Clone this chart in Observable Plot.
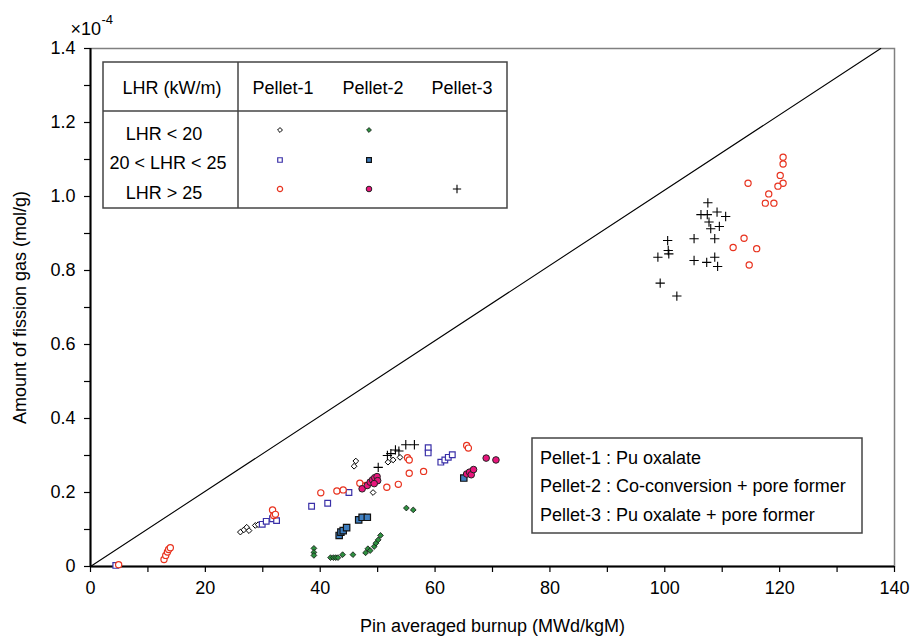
<!DOCTYPE html>
<html><head><meta charset="utf-8">
<script src="https://cdn.jsdelivr.net/npm/d3@7"></script>
<script src="https://cdn.jsdelivr.net/npm/@observablehq/plot@0.6"></script>
<style>
body{margin:0;background:#fff;}
#wrap{position:relative;width:913px;height:641px;font-family:"Liberation Sans",Arial,sans-serif;color:#000;}
#overlay{position:absolute;left:0;top:0;pointer-events:none;}
</style></head><body><div id="wrap"></div>
<script>
// ---- data (burnup in MWd/kgM, fission gas in 1e-4 mol/g) ----
const p1LowX = [26.1,26.7,27.2,27.6,28.7,29.2,45.9,46.2,49.2,51.8,52.7,53.9];
const p1LowY = [0.093,0.099,0.106,0.097,0.111,0.113,0.271,0.285,0.2,0.282,0.288,0.295];

const p1MidX = [4.4,29.9,30.6,31.7,32.4,38.5,41.3,45.0,58.8,58.8,61.0,61.7,62.3,63.0];
const p1MidY = [0.003,0.114,0.122,0.129,0.124,0.163,0.171,0.2,0.321,0.307,0.282,0.288,0.295,0.302];

const p1HighX = [4.9,12.8,13.1,13.4,13.6,13.9,31.7,31.9,32.2,40.1,42.9,44.0,46.9,47.9,51.6,53.6,55.2,55.5,55.5,58.0,65.5,65.8,
  120.6,120.6,120.1,120.6,119.7,114.5,118.1,117.5,119.0,113.8,111.9,116.0,114.7];
const p1HighY = [0.005,0.019,0.030,0.039,0.046,0.051,0.153,0.138,0.141,0.199,0.204,0.207,0.225,0.219,0.214,0.222,0.294,0.288,0.252,0.257,0.327,0.32,
  1.106,1.088,1.057,1.036,1.028,1.036,1.007,0.982,0.982,0.887,0.862,0.859,0.815];

const p2LowX = [38.9,38.9,38.9,41.8,42.3,42.7,43.1,43.9,45.7,47.9,48.3,48.7,49.4,49.7,50.1,50.5,55.0,56.2];
const p2LowY = [0.049,0.038,0.030,0.024,0.024,0.024,0.024,0.032,0.032,0.037,0.048,0.043,0.054,0.063,0.072,0.084,0.158,0.153];

const p2MidX = [43.3,43.6,44.0,44.6,46.7,47.3,48.2,65.0];
const p2MidY = [0.084,0.093,0.097,0.105,0.126,0.133,0.133,0.239];

const p2HighX = [47.3,48.2,48.7,49.1,49.5,49.9,50.0,49.4,65.5,66.0,66.3,66.7,68.9,70.6];
const p2HighY = [0.21,0.219,0.228,0.234,0.24,0.243,0.232,0.224,0.25,0.255,0.248,0.262,0.293,0.288];

const p3HighX = [50.1,51.7,52.3,53.1,53.7,54.9,56.4,107.5,106.3,107.4,109.1,110.6,107.7,108.0,109.5,108.7,105.1,100.5,100.6,100.7,98.8,105.1,107.3,108.7,109.2,99.2,102.1];
const p3HighY = [0.268,0.3,0.305,0.315,0.312,0.329,0.329,0.983,0.951,0.951,0.958,0.946,0.931,0.913,0.919,0.886,0.886,0.881,0.854,0.845,0.836,0.827,0.822,0.836,0.811,0.766,0.731];

const refLineX = [0, 137.6];
const refLineY = [0, 1.4];

const xTicks = [0,20,40,60,80,100,120,140];
const xMinorTicks = [10,30,50,70,90,110,130];
const yTicks = [0,0.2,0.4,0.6,0.8,1.0,1.2,1.4];
const yTickLabels = ["0","0.2","0.4","0.6","0.8","1.0","1.2","1.4"];
const yMinorTicks = [0.1,0.3,0.5,0.7,0.9,1.1,1.3];

const xTitle = "Pin averaged burnup (MWd/kgM)";
const yTitle = "Amount of fission gas (mol/g)";
const yExpBase = "×10";
const yExp = "-4";

const legendHeaders = ["LHR (kW/m)","Pellet-1","Pellet-2","Pellet-3"];
const legendRows = ["LHR < 20","20 < LHR < 25","LHR > 25"];
const pelletNotes = ["Pellet-1 : Pu oxalate","Pellet-2 : Co-conversion + pore former","Pellet-3 : Pu oxalate + pore former"];

// ---- styles ----
const S = {
  p1Low:  {symbol:"diamond2", r:2.6, fill:"#fff", stroke:"#000", strokeWidth:1},
  p1Mid:  {symbol:"square", r:3.2, fill:"#fff", stroke:"#3a30a8", strokeWidth:1.2},
  p1High: {symbol:"circle", r:3.1, fill:"#fff", stroke:"#e8321e", strokeWidth:1.2},
  p2Low:  {symbol:"diamond2", r:2.6, fill:"#2e9040", stroke:"#111", strokeWidth:0.8},
  p2Mid:  {symbol:"square", r:3.6, fill:"#3f7fc0", stroke:"#111", strokeWidth:1.2},
  p2High: {symbol:"circle", r:3.3, fill:"#e8157c", stroke:"#222", strokeWidth:1},
  p3High: {symbol:"plus", r:3.1, fill:"none", stroke:"#000", strokeWidth:1.1}
};

const zip = (xs, ys) => xs.map((x, i) => ({x, y: ys[i]}));
const series = [
  [zip(p1LowX, p1LowY), S.p1Low],
  [zip(p1MidX, p1MidY), S.p1Mid],
  [zip(p1HighX, p1HighY), S.p1High],
  [zip(p2LowX, p2LowY), S.p2Low],
  [zip(p2MidX, p2MidY), S.p2Mid],
  [zip(p2HighX, p2HighY), S.p2High],
  [zip(p3HighX, p3HighY), S.p3High]
];

const font = '"Liberation Sans", Arial, sans-serif';

const chart = Plot.plot({
  width: 913, height: 641,
  marginLeft: 90, marginRight: 19, marginTop: 48, marginBottom: 75,
  style: {fontFamily: font, fontSize: "18px", color: "#000", background: "#fff", overflow: "visible"},
  x: {domain: [0, 140]},
  y: {domain: [0, 1.4]},
  marks: [
    Plot.frame({stroke: "#808080", strokeWidth: 1.5}),
    Plot.line(zip(refLineX, refLineY), {x: "x", y: "y", stroke: "#000", strokeWidth: 1.1}),
    Plot.axisX({ticks: xTicks, tickSize: 6, tickPadding: 9, label: null, fontSize: 18, strokeWidth: 1.2}),
    Plot.axisX({ticks: xMinorTicks, tickSize: 6, label: null, text: null, strokeWidth: 1.2}),
    Plot.axisY({ticks: yTicks, tickSize: 6, tickPadding: 9, label: null, fontSize: 18, strokeWidth: 1.2,
      tickFormat: d => yTickLabels[yTicks.findIndex(t => Math.abs(t - d) < 1e-9)]}),
    Plot.axisY({ticks: yMinorTicks, tickSize: 6, label: null, text: null, strokeWidth: 1.2}),
    Plot.ruleX([0], {stroke: "#000", strokeWidth: 2}),
    Plot.ruleY([0], {stroke: "#000", strokeWidth: 2}),
    ...series.map(([d, s]) => Plot.dot(d, {x: "x", y: "y", ...s})),
    Plot.text([xTitle], {frameAnchor: "bottom", dy: 60, lineAnchor: "middle", textAnchor: "middle", fontSize: 18, text: d => d}),
    Plot.text([yTitle], {frameAnchor: "left", dx: -70, rotate: -90, textAnchor: "middle", lineAnchor: "middle", fontSize: 18, text: d => d}),
    Plot.text([yExpBase], {frameAnchor: "top-left", dx: -20, dy: -26, fontSize: 18, textAnchor: "start", text: d => d}),
    Plot.text([yExp], {frameAnchor: "top-left", dx: 11, dy: -34, fontSize: 13, textAnchor: "start", text: d => d})
  ]
});

const wrap = document.getElementById("wrap");
wrap.appendChild(chart);

// ---- legends overlay ----
const ov = d3.select(wrap).append("svg").attr("id", "overlay")
  .attr("width", 913).attr("height", 641)
  .style("font-family", font).style("font-size", "18px");

const tbl = ov.append("g");
tbl.append("rect").attr("x", 103).attr("y", 62).attr("width", 404).attr("height", 146)
  .attr("fill", "#fff").attr("stroke", "#444").attr("stroke-width", 1.5);
tbl.append("line").attr("x1", 103).attr("x2", 507).attr("y1", 111).attr("y2", 111).attr("stroke", "#444").attr("stroke-width", 1.5);
tbl.append("line").attr("x1", 238).attr("x2", 238).attr("y1", 62).attr("y2", 208).attr("stroke", "#444").attr("stroke-width", 1.5);
const hdrX = [172, 283, 373, 462];
legendHeaders.forEach((h, i) => tbl.append("text").attr("x", hdrX[i]).attr("y", 88)
  .attr("text-anchor", "middle").attr("dominant-baseline", "central").text(h));
const rowY = [134, 163, 193];
const rowX = [164, 168, 164];
legendRows.forEach((r, i) => tbl.append("text").attr("x", rowX[i]).attr("y", rowY[i])
  .attr("text-anchor", "middle").attr("dominant-baseline", "central").text(r));

const symMap = {circle: d3.symbolCircle, square: d3.symbolSquare, diamond2: d3.symbolDiamond2, plus: d3.symbolPlus};
function legSym(x, y, s, scale) {
  const r = s.r * scale;
  tbl.append("path").attr("transform", `translate(${x},${y})`)
    .attr("d", d3.symbol(symMap[s.symbol], Math.PI * r * r)())
    .attr("fill", s.fill).attr("stroke", s.stroke).attr("stroke-width", s.strokeWidth);
}
const mx = [280, 369, 457], my = [130, 160, 189];
legSym(mx[0], my[0], S.p1Low, 0.85);
legSym(mx[1], my[0], S.p2Low, 0.85);
legSym(mx[0], my[1], S.p1Mid, 0.8);
legSym(mx[1], my[1], S.p2Mid, 0.75);
legSym(mx[0], my[2], S.p1High, 0.85);
legSym(mx[1], my[2], S.p2High, 0.85);
legSym(mx[2], my[2], S.p3High, 0.9);

const note = ov.append("g");
note.append("rect").attr("x", 532).attr("y", 438).attr("width", 330).attr("height", 95)
  .attr("fill", "#fff").attr("stroke", "#444").attr("stroke-width", 1.5);
const noteY = [458, 486, 515];
pelletNotes.forEach((t, i) => note.append("text").attr("x", 540).attr("y", noteY[i])
  .attr("dominant-baseline", "central").text(t));
</script></body></html>
